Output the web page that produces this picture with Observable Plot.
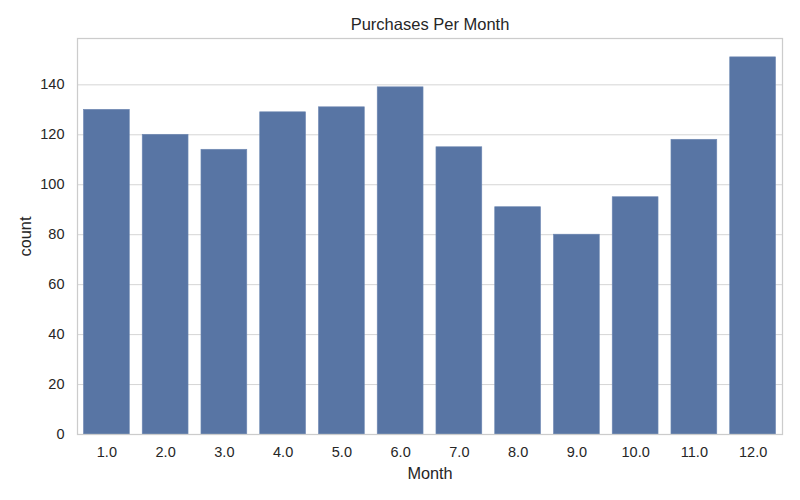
<!DOCTYPE html>
<html>
<head>
<meta charset="utf-8">
<script src="https://cdn.jsdelivr.net/npm/d3@7"></script>
<script src="https://cdn.jsdelivr.net/npm/@observablehq/plot@0.6"></script>
<style>
  html, body { margin: 0; padding: 0; background: #fff; }
  #chart svg { display: block; }
</style>
</head>
<body>
<div id="chart"></div>
<script>
const months = ["1.0","2.0","3.0","4.0","5.0","6.0","7.0","8.0","9.0","10.0","11.0","12.0"];
const counts = [130, 120, 114, 129, 131, 139, 115, 91, 80, 95, 118, 151];
const yTicks = [0, 20, 40, 60, 80, 100, 120, 140];
const title = "Purchases Per Month";
const xLabel = "Month";
const yLabel = "count";

const data = months.map((m, i) => ({month: m, count: counts[i]}));

const font = "'Liberation Sans', Arial, sans-serif";

const chart = Plot.plot({
  width: 800,
  height: 500,
  marginTop: 38,
  marginBottom: 66,
  marginLeft: 77,
  marginRight: 18,
  style: {fontFamily: font, fontSize: "14.5px", color: "#262626", background: "#fff"},
  x: {domain: months, paddingInner: 0.22, paddingOuter: 0.11, round: false, label: null},
  y: {domain: [0, 158.55], label: null},
  marks: [
    Plot.gridY(yTicks, {stroke: "#d5d5d5", strokeOpacity: 1, strokeWidth: 1}),
    Plot.barY(data, {x: "month", y: "count", fill: "#5875a4", stroke: "#6f89b3", strokeWidth: 0.6}),
    Plot.frame({stroke: "#cccccc", strokeWidth: 1.25}),
    Plot.axisX({tickSize: 0, tickPadding: 12, fontSize: 14.5, label: null, fill: "#262626"}),
    Plot.axisY(yTicks, {tickSize: 0, tickPadding: 13, fontSize: 14.5, label: null, fill: "#262626"}),
    Plot.text([title], {frameAnchor: "top", lineAnchor: "middle", textAnchor: "middle", dy: -14, fontSize: 16.5, fill: "#262626"}),
    Plot.text([xLabel], {frameAnchor: "bottom", lineAnchor: "middle", textAnchor: "middle", dy: 39, fontSize: 16.3, fill: "#262626"}),
    Plot.text([yLabel], {frameAnchor: "left", lineAnchor: "middle", textAnchor: "middle", dx: -52, rotate: -90, fontSize: 16.3, fill: "#262626"})
  ]
});
document.getElementById("chart").appendChild(chart);
</script>
</body>
</html>
